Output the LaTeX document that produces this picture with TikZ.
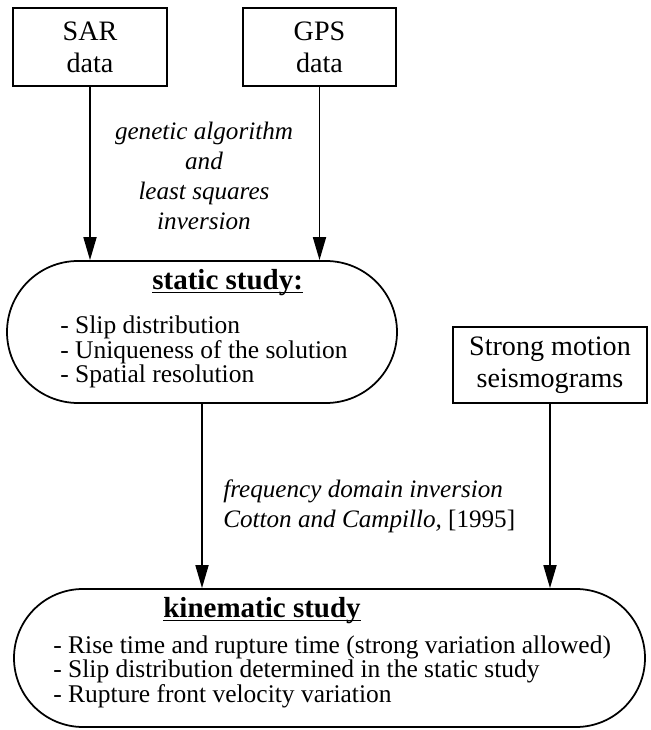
\documentclass[tikz,border=0pt]{standalone}
\usepackage{fontspec}
\setmainfont{Liberation Serif}
\usetikzlibrary{calc, positioning, arrows.meta}

\begin{document}
\begin{tikzpicture}[>={Triangle[length=4.6mm, width=2.6mm]},
    databox/.style={draw, line width=1pt, align=center, inner sep=0pt,
        minimum height=1.56cm, font=\fontsize{16}{18.2}\selectfont},
    studybox/.style={draw, line width=1pt, inner sep=0pt},
    note/.style={font=\fontsize{14.3}{17.1}\selectfont\itshape},
    title/.style={anchor=base west, inner sep=0pt, font=\fontsize{16.5}{18}\selectfont\bfseries},
    items/.style={anchor=base west, align=left, inner sep=0pt}]
    \useasboundingbox (0, 0) rectangle (13.02, 14.6);

    % input data
    \node[databox, minimum width=3.08cm] (sar) at (1.80, 13.66) {SAR\\data};
    \node[databox, minimum width=3.06cm] (gps) at (6.39, 13.66) {GPS\\data};
    \node[databox, minimum width=3.88cm, minimum height=1.52cm] (strong) at (11.00, 7.30) {Strong motion\\seismograms};

    % static study
    \node[studybox, minimum width=7.80cm, minimum height=2.84cm, rounded corners=1.42cm] (static) at (4.04, 7.96) {};
    \node[title] (stitle) at (3.04, 8.80) {\underline{\smash{static study:}}};
    \node[items, font=\fontsize{14.5}{14.2}\selectfont] (slist) at (1.20, 6.94)
        {- Slip distribution\\- Uniqueness of the solution\\- Spatial resolution};

    % kinematic study
    \node[studybox, minimum width=12.62cm, minimum height=2.76cm, rounded corners=1.38cm] (kine) at (6.59, 1.44) {};
    \node[title] (ktitle) at (3.26, 2.24) {\underline{\smash{kinematic study}}};
    \node[items, font=\fontsize{14.5}{13.7}\selectfont] (klist) at (1.06, 0.56)
        {- Rise time and rupture time (strong variation allowed)\\- Slip distribution determined in the static study\\- Rupture front velocity variation};

    % methods
    \node[note, align=center] (ga) at (4.08, 11.08) {genetic algorithm\\and\\least squares\\inversion};
    \node[items, font=\fontsize{14.3}{17.6}\selectfont] (freq) at (4.46, 4.04)
        {\textit{frequency domain inversion}\\\textit{Cotton and Campillo,} [1995]};

    \draw[line width=1pt, ->] (sar) -- (sar |- static.north);
    \draw[line width=1pt, ->] (gps) -- (gps |- static.north);
    \draw[line width=1pt, ->] (static) -- (static |- kine.north);
    \draw[line width=1pt, ->] (strong) -- (strong |- kine.north);
\end{tikzpicture}
\end{document}
